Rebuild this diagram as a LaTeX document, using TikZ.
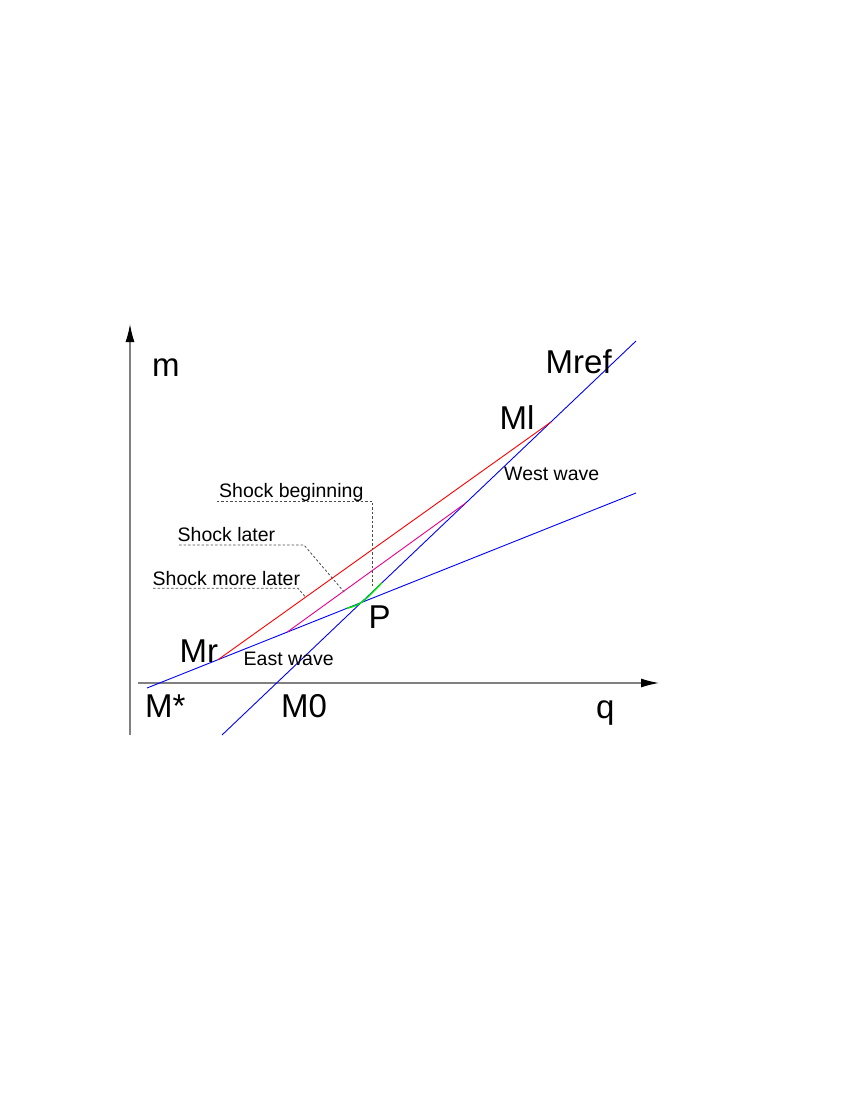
\documentclass[tikz,border=0pt]{standalone}
\usepackage{fontspec}
\setmainfont{Liberation Sans}
\usetikzlibrary{arrows.meta}
\definecolor{brightgreen}{RGB}{0,230,0}
\begin{document}
\begin{tikzpicture}[x=1pt,y=-1pt,
  axis/.style={draw=black!50,line width=1.3,-{Latex[length=18,width=9,color=black]}},
  wave/.style={draw=blue,line width=0.9},
  shockred/.style={draw=red,line width=0.9},
  shockmag/.style={draw=magenta,line width=0.9},
  shockgreen/.style={draw=brightgreen,line width=1.4},
  leader/.style={draw=black!70,line width=0.8,dash pattern=on 2.5pt off 2pt},
  big/.style={anchor=base west,inner sep=0,font=\fontsize{33}{36}\selectfont},
  small/.style={anchor=base west,inner sep=0,font=\fontsize{19.5}{22}\selectfont}]
\useasboundingbox (0,0) rectangle (850,1100);
% axes
\coordinate (ybot) at (130,735);
\coordinate (ytop) at (130,324);
\coordinate (xleft) at (138,683);
\coordinate (xright) at (659,683);
\draw[axis] (ybot) -- (ytop);
\draw[axis] (xleft) -- (xright);
% wave lines
\coordinate (Es) at (147,688);
\coordinate (Ee) at (636,493);
\coordinate (Ws) at (222,735);
\coordinate (We) at (636,341);
\draw[wave] (Es) -- (Ee);
\draw[wave] (Ws) -- (We);
% shocks
\coordinate (Mrp) at (218,659.7);
\coordinate (Mlp) at (551,422);
\coordinate (Ms) at (287,632.2);
\coordinate (Me) at (466,502.8);
\coordinate (Gs) at (346.7,608.4);
\coordinate (Gc) at (361,604.3);
\coordinate (Ge) at (381.7,583);
\draw[shockred] (Mrp) -- (Mlp);
\draw[shockmag] (Ms) -- (Me);
\draw[shockgreen] (Gs) .. controls (Gc) .. (Ge);
% leaders
\coordinate (L1a) at (216.7,501);
\coordinate (L1b) at (372.3,501);
\coordinate (L1c) at (372.3,588);
\coordinate (L2a) at (179,545);
\coordinate (L2b) at (304,545);
\coordinate (L2c) at (345,593);
\coordinate (L3a) at (153,588.3);
\coordinate (L3b) at (298,588.3);
\coordinate (L3c) at (305.7,597.3);
\draw[leader] (L1a) -- (L1b) -- (L1c);
\draw[leader] (L2a) -- (L2b) -- (L2c);
\draw[leader] (L3a) -- (L3b) -- (L3c);
% labels
\node[big] (lm) at (152,376) {m};
\node[big] (lq) at (596,718) {q};
\node[big] (lMs) at (145,717) {M*};
\node[big] (lM0) at (281,717) {M0};
\node[big] (lMr) at (179.5,662) {Mr};
\node[big] (lMl) at (499.5,429) {Ml};
\node[big] (lMref) at (545.5,373) {Mref};
\node[big] (lP) at (368.5,628) {P};
\node[small] (sb) at (219,497) {Shock beginning};
\node[small] (sl) at (177.5,541.5) {Shock later};
\node[small] (sml) at (152.5,585.5) {Shock more later};
\node[small] (ww) at (504,480) {West wave};
\node[small] (ew) at (243.5,665) {East wave};
\end{tikzpicture}
\end{document}
